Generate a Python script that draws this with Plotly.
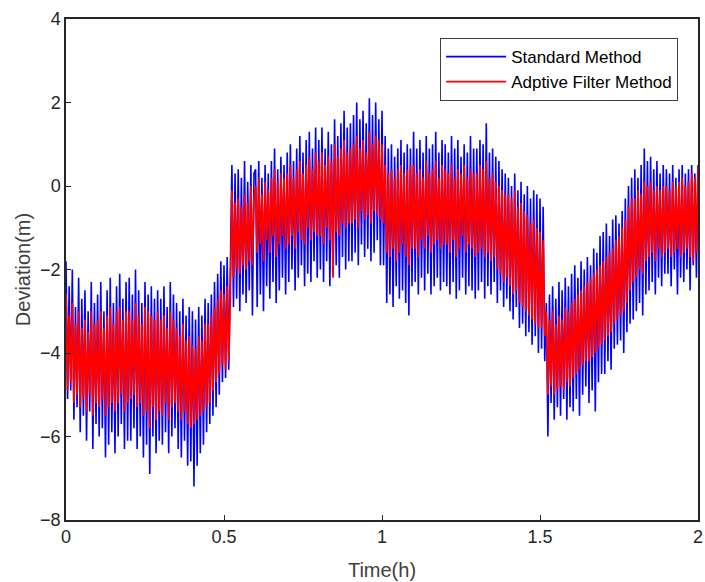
import numpy as np
import plotly.graph_objects as go

# time axis in hours, one sample every 0.005 h
time_h = np.round(np.arange(0, 2.0001, 0.005), 3)

# deviation (m), 20 samples per 0.1 h
standard_method = [
    -1.8, -5.1, -2.4, -4.9, -2.0, -5.6, -2.9, -5.3, -2.2, -5.9, -2.7, -5.5, -2.5, -6.1, -3.0, -5.4, -2.3, -6.3, -2.8, -5.7,
    -2.6, -6.0, -2.3, -5.8, -3.0, -6.5, -2.5, -6.2, -2.2, -5.9, -2.8, -6.4, -2.4, -6.0, -2.1, -5.7, -2.7, -6.3, -2.3, -6.1,
    -2.2, -6.1, -2.6, -5.8, -2.0, -6.3, -2.5, -6.0, -2.8, -6.5, -2.3, -6.2, -2.6, -6.9, -2.4, -6.0, -2.7, -6.4, -2.5, -6.1,
    -2.7, -6.2, -2.4, -5.9, -2.9, -6.4, -2.3, -6.0, -2.6, -5.8, -2.8, -6.3, -3.0, -6.5, -2.7, -6.1, -3.1, -6.7, -2.9, -6.6,
    -3.0, -7.2, -3.2, -6.7, -2.9, -6.4, -3.1, -6.2, -2.7, -5.9, -2.8, -5.7, -2.6, -5.5, -2.3, -5.3, -2.1, -5.0, -1.8, -4.7,
    -1.9, -4.6, -1.7, -4.4, -2.0, 0.5, -2.9, 0.3, -2.7, 0.4, -3.0, 0.2, -2.6, 0.6, -2.8, 0.1, -2.5, 0.5, -3.1, 0.3,
    0.4, -2.9, 0.6, -2.6, 0.2, -3.0, 0.5, -2.4, 0.3, -2.7, 0.6, -2.3, 0.9, -2.8, 0.4, -2.5, 0.7, -2.2, 0.5, -2.6,
    0.8, -2.3, 1.0, -2.0, 0.6, -2.5, 0.9, -2.2, 1.2, -1.9, 0.8, -2.4, 1.1, -2.1, 1.3, -2.3, 0.9, -1.8, 1.4, -2.2,
    1.1, -2.0, 1.4, -2.3, 0.9, -1.8, 1.3, -2.4, 1.0, -2.1, 1.6, -1.9, 1.2, -2.2, 1.5, -1.7, 1.8, -2.0, 1.4, -1.8,
    1.5, -1.8, 1.7, -1.6, 2.0, -1.9, 1.6, -1.4, 1.8, -1.7, 1.5, -1.5, 2.1, -1.8, 1.7, -1.6, 2.0, -1.3, 1.6, -1.9,
    1.8, -1.9, 1.2, -2.8, 0.9, -2.6, 1.0, -2.9, 0.7, -2.4, 0.9, -2.7, 1.1, -2.5, 0.8, -2.8, 1.0, -3.1, 0.9, -2.4,
    1.3, -2.3, 0.9, -2.6, 1.1, -2.2, 0.8, -2.5, 1.2, -2.1, 0.9, -2.6, 1.0, -2.4, 1.3, -2.2, 0.8, -2.5, 1.1, -2.3,
    1.0, -2.4, 0.8, -2.6, 1.2, -2.3, 0.9, -2.7, 1.1, -2.5, 0.7, -2.2, 1.0, -2.6, 0.8, -2.4, 1.2, -2.5, 0.9, -2.7,
    0.9, -2.5, 1.1, -2.3, 1.0, -2.7, 1.5, -2.4, 0.8, -2.6, 0.9, -2.3, 0.7, -2.8, 0.6, -2.5, 0.4, -2.9, 0.3, -2.7,
    0.2, -3.0, 0.0, -3.2, 0.3, -2.9, -0.1, -3.4, 0.1, -3.3, -0.2, -3.6, 0.0, -3.5, -0.3, -3.8, -0.1, -3.6, -0.2, -4.0,
    -0.3, -3.9, -0.5, -4.2, -2.8, -6.0, -2.6, -5.2, -2.4, -5.6, -2.7, -5.3, -2.3, -5.5, -2.5, -5.1, -2.2, -5.6, -2.4, -5.3,
    -2.1, -5.4, -1.9, -5.1, -2.2, -5.5, -1.8, -5.0, -2.0, -4.8, -1.7, -5.2, -1.9, -4.9, -1.5, -5.4, -1.6, -4.7, -1.2, -4.5,
    -1.1, -4.5, -0.9, -4.2, -1.2, -4.4, -0.8, -3.9, -0.7, -3.8, -0.9, -3.7, -0.6, -4.0, -0.3, -3.5, 0.0, -3.3, 0.2, -3.2,
    0.4, -3.0, 0.2, -2.8, 0.5, -3.1, 0.9, -2.6, 0.6, -2.5, 0.7, -2.3, 0.4, -2.6, 0.6, -2.2, 0.3, -2.4, 0.5, -2.1,
    0.4, -2.1, 0.3, -2.4, 0.5, -2.0, 0.2, -2.6, 0.4, -2.2, 0.5, -2.3, 0.3, -2.0, 0.4, -2.5, 0.5, -1.9, 0.3, -2.2, 0.5,
]

adaptive_filter = [
    -2.6, -4.9, -3.1, -4.7, -2.8, -5.2, -3.3, -5.0, -3.0, -5.3, -3.4, -5.1, -3.2, -5.4, -3.5, -5.0, -3.0, -5.5, -3.3, -5.2,
    -3.2, -5.3, -3.0, -5.1, -3.4, -5.5, -3.1, -5.3, -2.9, -5.2, -3.3, -5.4, -3.0, -5.2, -2.9, -5.0, -3.2, -5.4, -3.0, -5.2,
    -3.0, -5.1, -3.2, -5.0, -2.8, -5.3, -3.1, -5.2, -3.3, -5.5, -2.9, -5.4, -3.0, -5.8, -3.1, -5.3, -3.2, -5.6, -3.0, -5.4,
    -3.2, -5.5, -3.1, -5.2, -3.4, -5.6, -3.0, -5.3, -3.2, -5.2, -3.4, -5.4, -3.6, -5.6, -3.3, -5.4, -3.7, -5.7, -3.6, -5.8,
    -3.8, -5.7, -3.9, -5.6, -3.6, -5.5, -3.7, -5.4, -3.3, -5.3, -3.3, -5.2, -3.1, -4.9, -2.9, -4.7, -2.7, -4.5, -2.5, -4.3,
    -2.6, -4.4, -2.4, -4.2, -2.7, -0.1, -2.2, -0.4, -2.0, -0.3, -2.1, -0.5, -1.9, -0.2, -2.0, -0.4, -1.8, 0.0, -1.9, -0.3,
    0.0, -1.6, 0.2, -1.4, -0.2, -1.8, 0.1, -1.3, -0.1, -1.6, 0.2, -1.2, 0.4, -1.7, 0.1, -1.4, 0.3, -1.2, 0.2, -1.5,
    0.3, -1.4, 0.5, -1.2, 0.2, -1.5, 0.4, -1.1, 0.6, -1.3, 0.3, -1.4, 0.5, -1.0, 0.7, -1.3, 0.4, -1.1, 0.8, -1.2,
    0.6, -1.2, 0.8, -1.4, 0.5, -1.0, 0.7, -1.3, 0.6, -2.2, 1.0, -1.1, 0.7, -1.2, 0.9, -0.9, 1.1, -1.0, 0.8, -0.9,
    0.9, -0.9, 1.0, -0.8, 1.2, -1.0, 0.9, -0.6, 1.1, -0.8, 0.8, -0.7, 1.3, -0.9, 1.0, -0.6, 1.2, -0.7, 1.1, -0.8,
    1.0, -0.9, 0.5, -1.6, 0.3, -1.7, 0.4, -1.5, 0.2, -1.8, 0.4, -1.6, 0.5, -1.4, 0.3, -1.7, 0.4, -1.9, 0.5, -1.5,
    0.5, -1.5, 0.3, -1.7, 0.4, -1.3, 0.2, -1.5, 0.6, -1.2, 0.3, -1.6, 0.4, -1.4, 0.6, -1.3, 0.2, -1.5, 0.5, -1.4,
    0.4, -1.4, 0.3, -1.6, 0.5, -1.3, 0.2, -1.7, 0.4, -1.5, 0.3, -1.2, 0.5, -1.6, 0.2, -1.4, 0.4, -1.5, 0.3, -1.7,
    0.3, -1.6, 0.5, -1.5, 0.4, -1.7, 0.6, -1.6, 0.2, -1.8, 0.3, -1.7, 0.1, -2.0, 0.0, -2.1, -0.1, -2.3, -0.2, -2.2,
    -0.2, -2.4, -0.3, -2.6, -0.1, -2.5, -0.5, -2.8, -0.4, -2.9, -0.6, -3.0, -0.7, -3.1, -0.9, -3.2, -0.8, -3.3, -1.0, -3.4,
    -1.1, -3.4, -1.3, -3.6, -3.0, -5.0, -3.2, -4.8, -3.0, -5.0, -3.3, -4.9, -3.1, -4.8, -3.2, -4.9, -2.9, -4.7, -3.0, -4.8,
    -2.8, -4.6, -2.7, -4.5, -2.6, -4.4, -2.5, -4.3, -2.4, -4.2, -2.3, -4.2, -2.2, -4.1, -2.1, -4.0, -2.0, -3.9, -1.9, -3.8,
    -1.8, -3.7, -1.7, -3.6, -1.6, -3.5, -1.5, -3.3, -1.3, -3.2, -1.2, -3.1, -1.0, -3.0, -0.8, -2.8, -0.5, -2.5, -0.3, -2.3,
    -0.3, -2.2, -0.1, -2.0, -0.2, -2.1, 0.1, -1.8, 0.0, -1.7, 0.1, -1.6, -0.1, -1.8, 0.0, -1.5, -0.1, -1.7, 0.0, -1.6,
    0.0, -1.5, -0.1, -1.7, 0.1, -1.6, 0.0, -1.5, 0.1, -1.7, 0.2, -1.6, 0.0, -1.5, 0.1, -1.7, 0.3, -1.8, 0.2, -1.6, 0.5,
]

x_ticks = [0, 0.5, 1, 1.5, 2]
y_ticks = [-8, -6, -4, -2, 0, 2, 4]

font_family = "Liberation Sans, Arial, sans-serif"

fig = go.Figure()
fig.add_trace(go.Scatter(x=time_h, y=standard_method, mode="lines", name="Standard Method",
                         line=dict(color="#0000ff", width=1.6)))
fig.add_trace(go.Scatter(x=time_h, y=adaptive_filter, mode="lines", name="Adptive Filter Method",
                         line=dict(color="#ff0000", width=1.8)))

axis_style = dict(showline=True, mirror=True, linecolor="#262626", linewidth=1.5,
                  ticks="inside", ticklen=5, tickcolor="#262626", showgrid=False, zeroline=False,
                  ticklabeloverflow="allow",
                  tickfont=dict(family=font_family, size=18, color="#262626"))

fig.update_xaxes(range=[0, 2], tickvals=x_ticks, ticktext=[str(v) for v in x_ticks],
                 title=dict(text="Time(h)", font=dict(family=font_family, size=20, color="#404040"), standoff=17),
                 **axis_style)
fig.update_yaxes(range=[-8, 4], tickvals=y_ticks,
                 title=dict(text="Deviation(m)", font=dict(family=font_family, size=20, color="#404040"), standoff=4),
                 **axis_style)

fig.update_layout(
    width=705, height=582,
    margin=dict(l=66, r=7, t=19, b=62, autoexpand=False),
    plot_bgcolor="white", paper_bgcolor="white",
    font=dict(family=font_family, color="#262626"),
    legend=dict(x=0.592, y=0.962, xanchor="left", yanchor="top",
                bordercolor="#404040", borderwidth=1, bgcolor="white",
                font=dict(family=font_family, size=17, color="#000000"),
                tracegroupgap=0, itemwidth=60),
)

# drop the page's default body margin so the figure sits at the window corner
fig.write_html("out.html", config={"displayModeBar": False},
               post_script="document.body.style.margin='0';")
